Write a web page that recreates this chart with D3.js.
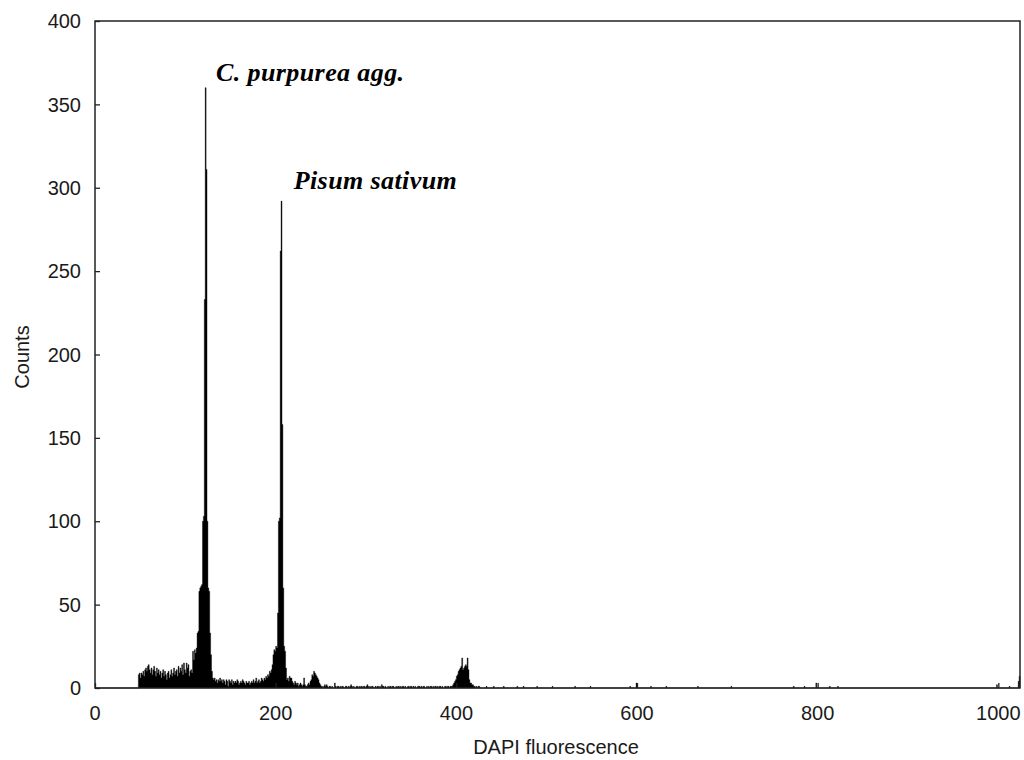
<!DOCTYPE html>
<html>
<head>
<meta charset="utf-8">
<script src="https://cdn.jsdelivr.net/npm/d3@7"></script>
<style>
  html, body { margin: 0; padding: 0; background: #fff; }
  svg { display: block; }
</style>
</head>
<body>
<svg id="chart" width="1024" height="760"></svg>
<script>
// ---------------- data ----------------
// Histogram: counts per DAPI channel (0..1023)
const mainStartChannel = 48;
const mainCounts = [
  // 48-107 : debris shoulder
  8, 9, 6, 9, 8, 10, 7, 11, 12, 10, 13, 14, 11, 9, 12, 8, 11, 13, 10, 7,
  12, 9, 11, 8, 10, 6, 9, 11, 7, 10, 8, 5, 9, 10, 6, 8, 11, 7, 9, 12,
  8, 10, 11, 7, 13, 9, 12, 10, 14, 8, 15, 11, 9, 15, 12, 14, 7, 10, 11, 9,
  // 108-130 : C. purpurea agg. G1 peak
  22, 17, 23, 21, 24, 33, 34, 58, 60, 61, 62, 100, 103, 233, 360, 311, 100, 60, 58, 33,
  20, 10, 6,
  // 131-195
  5, 6, 4, 5, 3, 5, 4, 6, 4, 5, 3, 5, 4, 2, 5, 4, 1, 5, 4, 3,
  5, 2, 4, 3, 4, 3, 5, 4, 2, 3, 4, 3, 5, 4, 3, 2, 4, 3, 3, 4,
  2, 3, 4, 3, 5, 3, 4, 6, 3, 4, 5, 3, 4, 6, 5, 4, 6, 5, 7, 6,
  8, 7, 10, 9, 11,
  // 196-215 : Pisum sativum G1 peak
  14, 20, 23, 22, 25, 24, 45, 100, 102, 262, 292, 158, 60, 25, 22, 12, 5, 6, 4, 7,
  // 216-257
  6, 6, 4, 3, 2, 4, 3, 2, 3, 1, 2, 3, 2, 1, 2, 6, 2, 1, 1, 2,
  3, 2, 4, 5, 8, 7, 10, 9, 8, 7, 6, 5, 3, 2, 1, 1, 0, 1, 2, 1,
  2, 1,
  // 258-394
  0, 1, 1, 0, 1, 0, 0, 3, 1, 0, 1, 1, 0, 1, 0, 1, 1, 0, 0, 1,
  1, 0, 1, 0, 1, 2, 1, 0, 1, 0, 0, 1, 1, 0, 1, 0, 1, 1, 0, 1,
  1, 0, 1, 2, 1, 0, 1, 0, 1, 1, 0, 0, 1, 0, 1, 1, 0, 1, 0, 2,
  1, 1, 0, 1, 0, 0, 1, 0, 1, 1, 0, 1, 1, 0, 0, 1, 0, 1, 1, 0,
  1, 0, 1, 1, 0, 1, 0, 0, 1, 1, 0, 1, 1, 0, 1, 0, 1, 0, 0, 1,
  1, 1, 0, 1, 0, 1, 1, 0, 0, 1, 0, 1, 0, 1, 1, 0, 1, 0, 1, 1,
  0, 1, 0, 1, 1, 0, 1, 0, 0, 1, 1, 0, 1, 1, 0, 1, 1,
  // 395-425 : C. purpurea G2 peak
  1, 2, 3, 4, 5, 7, 8, 10, 11, 12, 13, 18, 11, 12, 13, 14, 13, 18, 11, 5,
  3, 3, 2, 2, 1, 1, 0, 1, 0, 1, 1
];
// sparse events above channel 425
const tailChannels = [433, 441, 452, 467, 474, 489, 506, 531, 548, 592, 599, 615, 632, 667, 704, 773, 785, 798, 813, 822, 998, 1012, 1022, 1023];
const tailCounts   = [1, 1, 1, 1, 1, 1, 1, 1, 1, 1, 3, 1, 1, 1, 1, 1, 1, 3, 1, 1, 2, 1, 4, 7];

const xTicks = [0, 200, 400, 600, 800, 1000];
const yTicks = [0, 50, 100, 150, 200, 250, 300, 350, 400];
const annotations = [
  { text: "C. purpurea agg.", channel: 134, count: 364 },
  { text: "Pisum sativum", channel: 220, count: 299 }
];
const xTitle = "DAPI fluorescence";
const yTitle = "Counts";

// ---------------- build series ----------------
const nChannels = 1024;
const counts = new Array(nChannels).fill(0);
mainCounts.forEach((v, i) => { counts[mainStartChannel + i] = v; });
tailChannels.forEach((c, i) => { counts[c] = tailCounts[i]; });
const series = counts.map((v, c) => ({ c, v }));
series.push({ c: nChannels, v: 0 });

// ---------------- layout ----------------
const svg = d3.select("#chart");
const L = 95, R = 1020, T = 21, B = 688;

const x = d3.scaleLinear().domain([0, 1024]).range([L, R]);
const y = d3.scaleLinear().domain([0, 400]).range([B, T]);

// histogram
const area = d3.area()
  .curve(d3.curveStepAfter)
  .x(d => x(d.c))
  .y0(y(0))
  .y1(d => y(d.v));

svg.append("path")
  .datum(series)
  .attr("d", area)
  .attr("fill", "#000")
  .attr("stroke", "#000")
  .attr("stroke-width", 0.4);

// axes (ticks inward)
const axisColor = "#222";
const fontFamily = "'Liberation Sans', Arial, sans-serif";
const fontSize = 20;

const yAxis = svg.append("g")
  .attr("transform", `translate(${L},0)`)
  .call(d3.axisRight(y).tickValues(yTicks).tickSize(5).tickFormat(""));
const xAxis = svg.append("g")
  .attr("transform", `translate(0,${B})`)
  .call(d3.axisTop(x).tickValues(xTicks).tickSize(5).tickFormat(""));
[yAxis, xAxis].forEach(g => {
  g.select(".domain").remove();
  g.selectAll("line").attr("stroke", axisColor).attr("stroke-width", 1.3);
});

// tick labels
svg.append("g").selectAll("text")
  .data(yTicks).join("text")
  .attr("x", L - 14)
  .attr("y", d => y(d))
  .attr("dy", "0.36em")
  .attr("text-anchor", "end")
  .attr("font-family", fontFamily)
  .attr("font-size", fontSize)
  .attr("fill", "#1a1a1a")
  .text(d => d);

svg.append("g").selectAll("text")
  .data(xTicks).join("text")
  .attr("x", d => x(d))
  .attr("y", B + 32)
  .attr("text-anchor", "middle")
  .attr("font-family", fontFamily)
  .attr("font-size", fontSize)
  .attr("fill", "#1a1a1a")
  .text(d => d);

// frame
svg.append("rect")
  .attr("x", L).attr("y", T)
  .attr("width", R - L).attr("height", B - T)
  .attr("fill", "none")
  .attr("stroke", axisColor)
  .attr("stroke-width", 1.5);

// axis titles
svg.append("text")
  .attr("x", 556)
  .attr("y", 754)
  .attr("text-anchor", "middle")
  .attr("font-family", fontFamily)
  .attr("font-size", fontSize)
  .attr("fill", "#1a1a1a")
  .text(xTitle);

svg.append("text")
  .attr("transform", `translate(29,357) rotate(-90)`)
  .attr("text-anchor", "middle")
  .attr("font-family", fontFamily)
  .attr("font-size", fontSize)
  .attr("fill", "#1a1a1a")
  .text(yTitle);

// peak annotations
svg.append("g").selectAll("text")
  .data(annotations).join("text")
  .attr("x", d => x(d.channel))
  .attr("y", d => y(d.count))
  .attr("font-family", "'Liberation Serif', 'Times New Roman', serif")
  .attr("font-style", "italic")
  .attr("font-weight", "bold")
  .attr("font-size", 26)
  .attr("letter-spacing", 0.4)
  .attr("fill", "#000")
  .text(d => d.text);
</script>
</body>
</html>
